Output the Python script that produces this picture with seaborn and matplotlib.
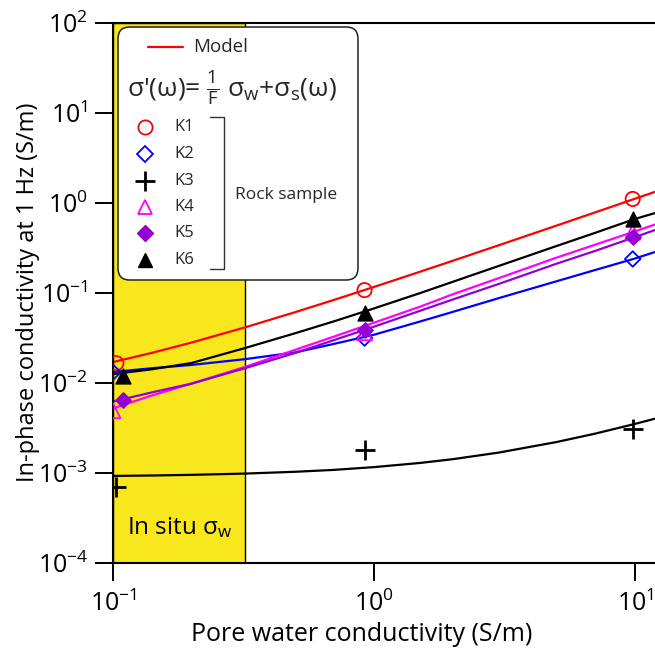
import numpy as np
import pandas as pd
import seaborn as sns
import matplotlib.pyplot as plt
from matplotlib.lines import Line2D
from matplotlib.patches import FancyBboxPatch

# ---- data ----
samples = ["K1", "K2", "K3", "K4", "K5", "K6"]

# measured points (pore water conductivity, in-phase conductivity)
K1_x = [0.103, 0.92, 9.8]
K1_y = [0.0165, 0.107, 1.10]
K2_x = [0.100, 0.92, 9.8]
K2_y = [0.0131, 0.0314, 0.237]
K3_x = [0.103, 0.92, 9.8]
K3_y = [0.00069, 0.00179, 0.00306]
K4_x = [0.100, 0.92, 9.8]
K4_y = [0.0049, 0.036, 0.47]
K5_x = [0.109, 0.92, 9.8]
K5_y = [0.0064, 0.0386, 0.42]
K6_x = [0.109, 0.92, 9.8]
K6_y = [0.0119, 0.060, 0.66]

# model curves
x_curve = [0.1, 0.14, 0.2, 0.32, 0.5, 0.7, 1, 1.5, 2, 3, 5, 7, 10, 12]
K1_model = [0.0170, 0.0214, 0.0280, 0.0412, 0.0610, 0.083, 0.116, 0.171, 0.226,
            0.336, 0.556, 0.776, 1.106, 1.326]
K2_model = [0.0132, 0.0145, 0.0158, 0.0183, 0.0218, 0.0270, 0.0342, 0.0479, 0.0612,
            0.087, 0.134, 0.178, 0.240, 0.285]
K3_model = [0.000926, 0.000936, 0.000952, 0.000983, 0.00103, 0.00108, 0.00116,
            0.00129, 0.00142, 0.00168, 0.0022, 0.00272, 0.0035, 0.00402]
K4_model = [0.0052, 0.0072, 0.0098, 0.0150, 0.0233, 0.0325, 0.0465, 0.070, 0.096,
            0.145, 0.245, 0.340, 0.480, 0.575]
K5_model = [0.0062, 0.0078, 0.0098, 0.0145, 0.0215, 0.0297, 0.042, 0.063, 0.084,
            0.125, 0.210, 0.290, 0.415, 0.500]
K6_model = [0.0125, 0.0141, 0.0166, 0.0243, 0.0356, 0.048, 0.067, 0.099, 0.132,
            0.198, 0.330, 0.460, 0.660, 0.770]

insitu_range = [0.1, 0.32]
x_ticks = [0.1, 1, 10]
y_ticks = [1e-4, 1e-3, 1e-2, 1e-1, 1, 10, 100]

points_x = [K1_x, K2_x, K3_x, K4_x, K5_x, K6_x]
points_y = [K1_y, K2_y, K3_y, K4_y, K5_y, K6_y]
models = [K1_model, K2_model, K3_model, K4_model, K5_model, K6_model]

# ---- styles ----
colors = ["#ff0000", "#0000ff", "#000000", "#ff00ff", "#9400d3", "#000000"]
markers = ["o", "D", "+", "^", "D", "^"]
filled = [False, False, False, False, True, True]
sizes = [105, 62, 200, 115, 62, 115]

sns.set_theme(style="ticks")
plt.rcParams["font.family"] = ["Open Sans", "DejaVu Sans"]
plt.rcParams["mathtext.fontset"] = "custom"
plt.rcParams["mathtext.rm"] = "Open Sans"
plt.rcParams["mathtext.it"] = "Open Sans:italic"
plt.rcParams["mathtext.bf"] = "Open Sans:bold"

W, H = 655, 659
fig = plt.figure(figsize=(W / 100, H / 100), dpi=100)
ax = fig.add_axes([113 / W, (H - 563) / H, 1 - 113 / W, (563 - 22.5) / H])

def fx(px):
    return px / W

def fy(py):
    return 1 - py / H

ax.axvspan(insitu_range[0], insitu_range[1], facecolor="#f8e71c",
           edgecolor="black", lw=1.0, zorder=0)

for i, name in enumerate(samples):
    sns.lineplot(x=x_curve, y=models[i], color=colors[i], lw=1.6, ax=ax, zorder=2)
    if markers[i] == "+":
        sns.scatterplot(x=points_x[i], y=points_y[i], marker="+", s=sizes[i],
                        color=colors[i], linewidth=2.0, ax=ax, zorder=4)
    elif filled[i]:
        sns.scatterplot(x=points_x[i], y=points_y[i], marker=markers[i], s=sizes[i],
                        color=colors[i], edgecolor=colors[i], linewidth=1.0,
                        ax=ax, zorder=4)
    else:
        sns.scatterplot(x=points_x[i], y=points_y[i], marker=markers[i], s=sizes[i],
                        color=colors[i], facecolor="none", edgecolor=colors[i],
                        linewidth=1.3, ax=ax, zorder=4)

ax.set_xscale("log")
ax.set_yscale("log")
ax.set_xlim(0.1, 10 ** ((655 - 113) / 261 - 1))
ax.set_ylim(1e-4, 1e2)
ax.set_xticks(x_ticks)
ax.set_yticks(y_ticks)
ax.minorticks_off()
ax.tick_params(axis="both", which="major", direction="out", length=13, width=1.4,
               labelsize=18, color="black", labelcolor="black")
ax.tick_params(axis="x", pad=7)
ax.tick_params(axis="y", pad=5)
for s in ["left", "bottom", "top"]:
    ax.spines[s].set_linewidth(1.5)
    ax.spines[s].set_color("black")
ax.spines["right"].set_visible(False)

ax.set_xlabel("Pore water conductivity (S/m)", fontsize=18, color="black")
ax.xaxis.set_label_coords((362 - 113) / 542, (563 - 622) / 540.5)
ax.set_ylabel("In-phase conductivity at 1 Hz (S/m)", fontsize=17, color="black")
ax.yaxis.set_label_coords((40 - 113) / 542, 0.5)

ax.text((180 - 113) / 542, (563 - 528) / 540.5, r"In situ $\mathregular{σ_w}$",
        transform=ax.transAxes, fontsize=17.5, ha="center", va="center", color="black")

# ---- hand-made legend box ----
box = FancyBboxPatch((fx(118), fy(280)), fx(358) - fx(118), fy(27) - fy(280),
                     boxstyle="round,pad=0,rounding_size=0.018",
                     transform=fig.transFigure, facecolor="white",
                     edgecolor="#222222", lw=1.1, zorder=10)
fig.add_artist(box)
fig.add_artist(Line2D([fx(148), fx(183)], [fy(47), fy(47)], transform=fig.transFigure,
                      color="#ff0000", lw=1.6, zorder=11))
fig.text(fx(193), fy(47), "Model", fontsize=13.5, va="center", ha="left", zorder=11)
fig.text(fx(127), fy(89),
         r"σ'(ω)= $\mathregular{\frac{1}{F}}$ $\mathregular{σ_w}$+$\mathregular{σ_s}$(ω)",
         fontsize=19, va="center", ha="left", zorder=11)

leg_y = [127, 154, 181, 207, 233, 260]
for i, name in enumerate(samples):
    ms = np.sqrt(sizes[i])
    if markers[i] == "+":
        h = Line2D([fx(145)], [fy(leg_y[i])], marker="+", ms=ms, mew=2.0,
                   color=colors[i], ls="none", transform=fig.transFigure, zorder=11)
    elif filled[i]:
        h = Line2D([fx(145)], [fy(leg_y[i])], marker=markers[i], ms=ms, mew=1.0,
                   mfc=colors[i], mec=colors[i], ls="none",
                   transform=fig.transFigure, zorder=11)
    else:
        h = Line2D([fx(145)], [fy(leg_y[i])], marker=markers[i], ms=ms, mew=1.3,
                   mfc="none", mec=colors[i], ls="none",
                   transform=fig.transFigure, zorder=11)
    fig.add_artist(h)
    fig.text(fx(174), fy(leg_y[i]), name, fontsize=12, va="center", ha="left", zorder=11)

# bracket
fig.add_artist(Line2D([fx(210), fx(224), fx(224), fx(210)],
                      [fy(117), fy(117), fy(269), fy(269)],
                      transform=fig.transFigure, color="#333333", lw=1.0, zorder=11))
fig.text(fx(235), fy(195), "Rock sample", fontsize=12.5, va="center", ha="left", zorder=11)

fig.savefig("out.png", dpi=100)
